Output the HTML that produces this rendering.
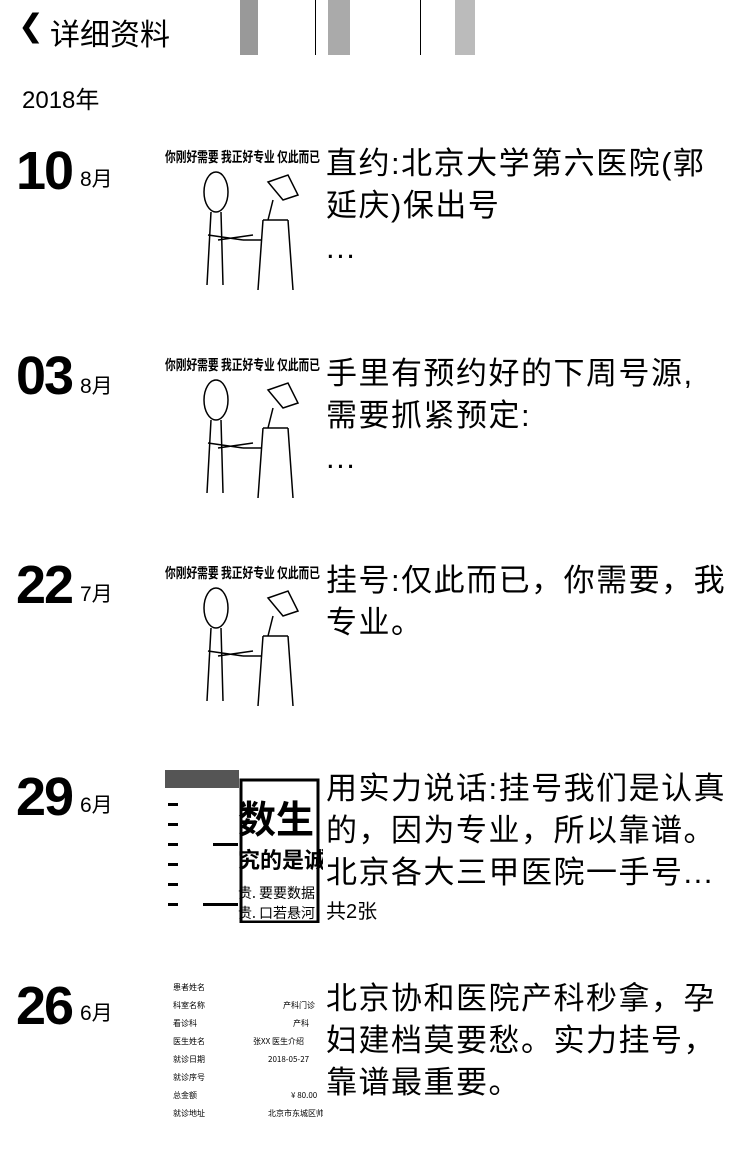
<!DOCTYPE html>
<html><head><meta charset="utf-8"><style>
body{margin:0;width:750px;height:1163px;background:#fff;position:relative;overflow:hidden;font-family:"Liberation Sans","Noto Sans CJK SC",sans-serif;color:#000}
.a{position:absolute;white-space:nowrap}
.day{font-size:54px;font-weight:bold;letter-spacing:-2px}
.mon{font-size:21px}
.t{font-size:31px;line-height:42px;letter-spacing:1.5px}
.th{position:absolute;left:163px;width:160px;height:155px}
</style></head><body>
<div class="a" style="left:18px;top:8px;font-size:31px">&#10094;</div>
<div class="a" style="left:50px;top:10px;font-size:30px">详细资料</div>
<div class="a" style="left:240px;top:0;width:18px;height:55px;background:#999"></div>
<div class="a" style="left:328px;top:0;width:22px;height:55px;background:#aaa"></div>
<div class="a" style="left:315px;top:0;width:1px;height:55px;background:#000"></div>
<div class="a" style="left:420px;top:0;width:1px;height:55px;background:#000"></div>
<div class="a" style="left:455px;top:0;width:20px;height:55px;background:#bbb"></div>
<div class="a" style="left:22px;top:80px;font-size:24px">2018年</div>

<div class="a day" style="left:16px;top:140px">10</div><div class="a mon" style="left:80px;top:163px">8月</div>
<div class="a t" style="left:326px;top:143px">直约:北京大学第六医院(郭<br>延庆)保出号<br>...</div>

<div class="a day" style="left:16px;top:345px">03</div><div class="a mon" style="left:80px;top:370px">8月</div>
<div class="a t" style="left:326px;top:353px">手里有预约好的下周号源,<br>需要抓紧预定:<br>...</div>

<div class="a day" style="left:16px;top:554px">22</div><div class="a mon" style="left:80px;top:578px">7月</div>
<div class="a t" style="left:326px;top:560px">挂号:仅此而已，你需要，我<br>专业。</div>

<div class="a day" style="left:16px;top:766px">29</div><div class="a mon" style="left:80px;top:789px">6月</div>
<div class="a t" style="left:326px;top:768px">用实力说话:挂号我们是认真<br>的，因为专业，所以靠谱。<br>北京各大三甲医院一手号...</div>
<div class="a" style="left:326px;top:895px;font-size:20px">共2张</div>

<div class="a day" style="left:16px;top:975px">26</div><div class="a mon" style="left:80px;top:997px">6月</div>
<div class="a t" style="left:326px;top:978px">北京协和医院产科秒拿，孕<br>妇建档莫要愁。实力挂号，<br>靠谱最重要。</div>

<svg class="th" style="top:140px" viewBox="0 0 160 155"><text x="2" y="22" font-size="14" font-weight="bold" font-family="Noto Sans CJK SC" textLength="155" lengthAdjust="spacingAndGlyphs">你刚好需要 我正好专业 仅此而已</text><g fill="none" stroke="#000" stroke-width="1.5"><ellipse cx="53" cy="52" rx="12" ry="20"/><path d="M48 72 L44 145 M58 72 L60 145 M45 95 L80 100 M55 100 L90 95"/><path d="M105 42 L125 35 L135 55 L120 60 Z M110 60 L105 80 M100 80 L95 150 M125 80 L130 150 M100 80 L125 80 M80 100 L98 100"/></g></svg>
<svg class="th" style="top:348px" viewBox="0 0 160 155"><text x="2" y="22" font-size="14" font-weight="bold" font-family="Noto Sans CJK SC" textLength="155" lengthAdjust="spacingAndGlyphs">你刚好需要 我正好专业 仅此而已</text><g fill="none" stroke="#000" stroke-width="1.5"><ellipse cx="53" cy="52" rx="12" ry="20"/><path d="M48 72 L44 145 M58 72 L60 145 M45 95 L80 100 M55 100 L90 95"/><path d="M105 42 L125 35 L135 55 L120 60 Z M110 60 L105 80 M100 80 L95 150 M125 80 L130 150 M100 80 L125 80 M80 100 L98 100"/></g></svg>
<svg class="th" style="top:556px" viewBox="0 0 160 155"><text x="2" y="22" font-size="14" font-weight="bold" font-family="Noto Sans CJK SC" textLength="155" lengthAdjust="spacingAndGlyphs">你刚好需要 我正好专业 仅此而已</text><g fill="none" stroke="#000" stroke-width="1.5"><ellipse cx="53" cy="52" rx="12" ry="20"/><path d="M48 72 L44 145 M58 72 L60 145 M45 95 L80 100 M55 100 L90 95"/><path d="M105 42 L125 35 L135 55 L120 60 Z M110 60 L105 80 M100 80 L95 150 M125 80 L130 150 M100 80 L125 80 M80 100 L98 100"/></g></svg>

<svg class="th" style="top:768px;width:160px" viewBox="0 0 160 155"><rect x="2" y="2" width="74" height="18" fill="#555"/><g fill="#000"><rect x="5" y="35" width="10" height="3"/><rect x="5" y="55" width="10" height="3"/><rect x="5" y="75" width="10" height="3"/><rect x="5" y="95" width="10" height="3"/><rect x="5" y="115" width="10" height="3"/><rect x="5" y="135" width="10" height="3"/><rect x="50" y="75" width="25" height="3"/><rect x="40" y="135" width="35" height="3"/></g><rect x="78" y="12" width="77" height="142" fill="none" stroke="#000" stroke-width="3"/><text x="75" y="65" font-size="38" font-weight="bold" font-family="Noto Sans CJK SC">数生</text><text x="75" y="100" font-size="22" font-weight="bold" font-family="Noto Sans CJK SC">究的是诚</text><text x="75" y="130" font-size="14" font-family="Noto Sans CJK SC">贵. 要要数据</text><text x="75" y="150" font-size="14" font-family="Noto Sans CJK SC">贵. 口若悬河</text></svg>

<svg class="th" style="top:980px" viewBox="0 0 160 155"><g font-size="8" font-family="Noto Sans CJK SC" fill="#000"><text x="10" y="10">患者姓名</text><text x="10" y="28">科室名称</text><text x="120" y="28">产科门诊</text><text x="10" y="46">看诊科</text><text x="130" y="46">产科</text><text x="10" y="64">医生姓名</text><text x="90" y="64">张XX   医生介绍</text><text x="10" y="82">就诊日期</text><text x="105" y="82">2018-05-27</text><text x="10" y="100">就诊序号</text><text x="10" y="118">总金额</text><text x="128" y="118">¥ 80.00</text><text x="10" y="136">就诊地址</text><text x="105" y="136">北京市东城区帅府园</text></g></svg>
</body></html>
